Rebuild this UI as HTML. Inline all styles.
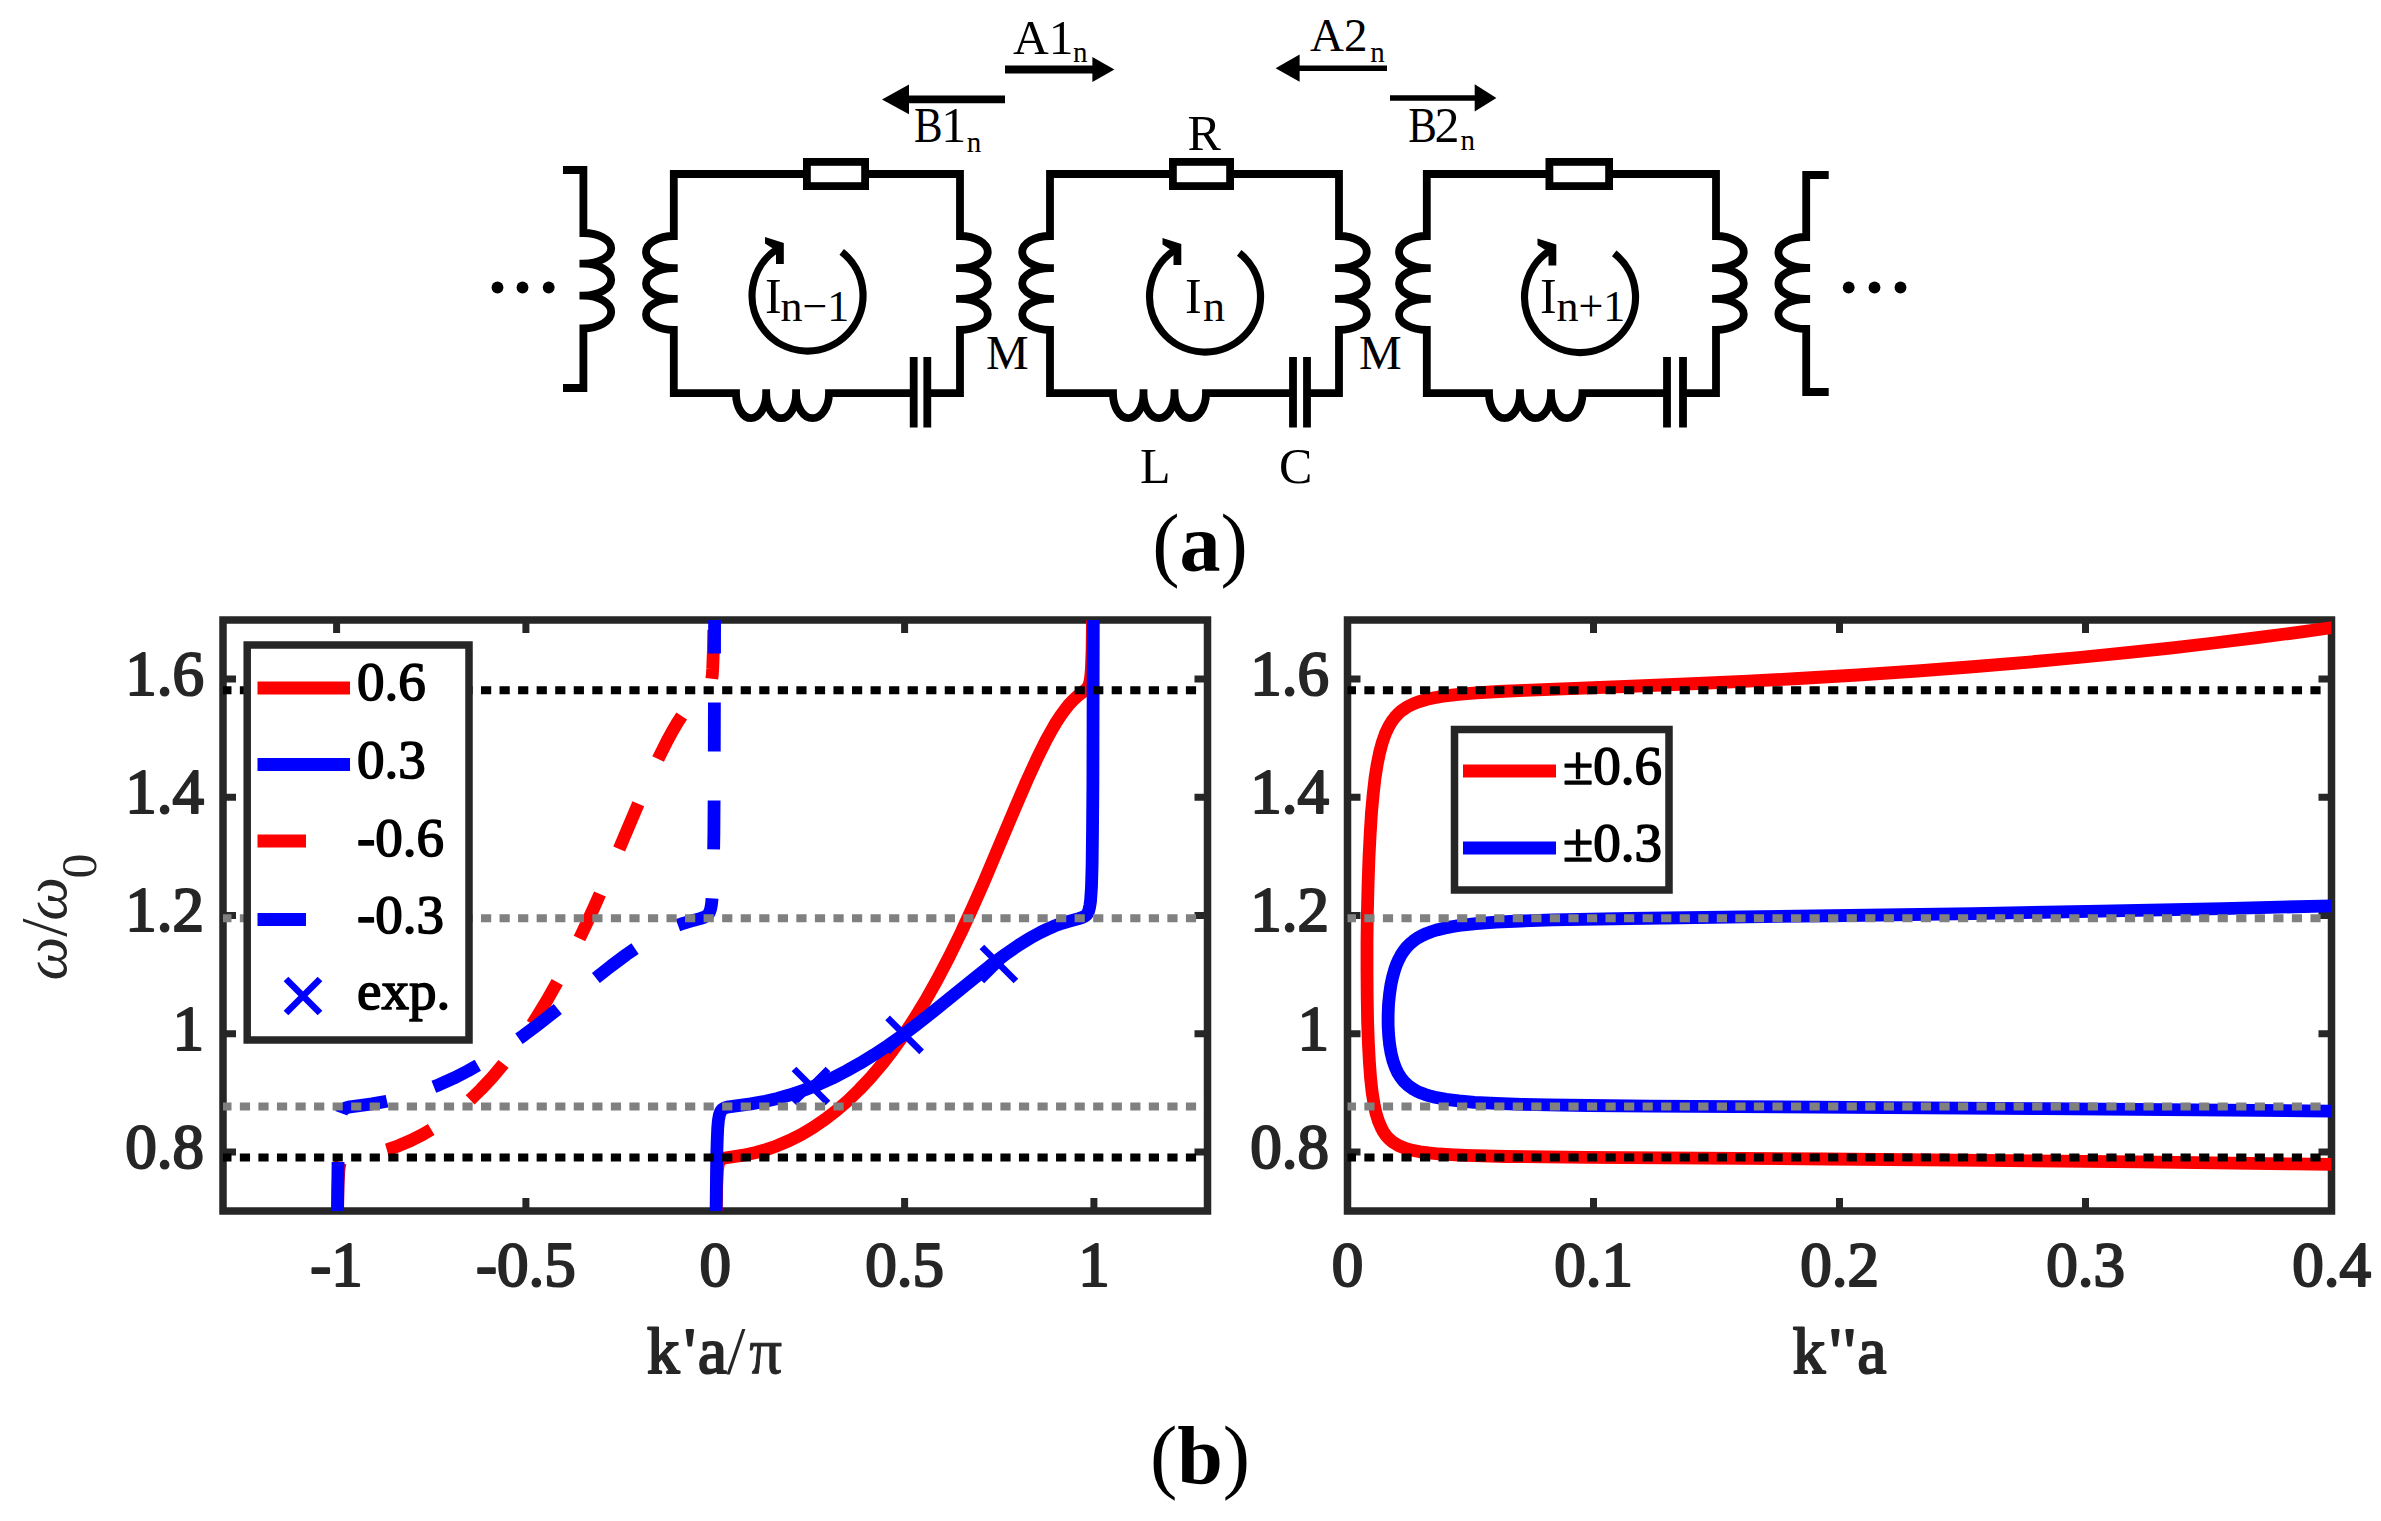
<!DOCTYPE html>
<html><head><meta charset="utf-8"><title>Figure</title>
<style>html,body{margin:0;padding:0;background:#fff}svg{display:block}</style>
</head><body>
<svg xmlns="http://www.w3.org/2000/svg" width="2381" height="1521" viewBox="0 0 2381 1521" font-family='"Liberation Serif", "DejaVu Serif", serif'><g fill="none" stroke="#000" stroke-width="7.8" stroke-linecap="butt" stroke-linejoin="miter"><path d="M806.0,174.0 H673.8 V236 A27.8,16.10 0 0 0 673.8,268.2 h3.90 h-3.90 A27.8,15.35 0 0 0 673.8,298.9 h3.90 h-3.90 A27.8,15.55 0 0 0 673.8,330.0 V393.2 H736.0 A15.10,25.0 0 0 0 766.2,393.2 v-3.90 v3.90 A14.95,25.0 0 0 0 796.1,393.2 v-3.90 v3.90 A16.45,25.0 0 0 0 829.0,393.2 H913.7"/><path d="M866.0,174.0 H960.0 V236 A27.8,16.10 0 0 1 960.0,268.2 h-3.90 h3.90 A27.8,15.35 0 0 1 960.0,298.9 h-3.90 h3.90 A27.8,15.55 0 0 1 960.0,330.0 V393.2 H927.3"/><rect x="806.9" y="161.9" width="58.2" height="24.2" fill="#fff"/><path d="M913.7,357 V427.5 M927.3,357 V427.5"/><path d="M841.7,251.8 A55.5,55.5 0 1 1 777.3,249.0" stroke-width="7.2"/><polygon points="765.0,237.0 783.8,243.0 783.8,264.0 776.0,264.0 776.0,250.5 765.0,243.5" fill="#000" stroke="none"/></g><text x="765.0" y="312.5" font-size="50" fill="#000">I</text><text x="780.5" y="321" font-size="44" fill="#000">n−1</text>
<g fill="none" stroke="#000" stroke-width="7.8" stroke-linecap="butt" stroke-linejoin="miter"><path d="M1172.0,174.0 H1050.0 V236 A27.8,16.10 0 0 0 1050.0,268.2 h3.90 h-3.90 A27.8,15.35 0 0 0 1050.0,298.9 h3.90 h-3.90 A27.8,15.55 0 0 0 1050.0,330.0 V393.2 H1113.0 A15.25,25.0 0 0 0 1143.5,393.2 v-3.90 v3.90 A15.50,25.0 0 0 0 1174.5,393.2 v-3.90 v3.90 A15.75,25.0 0 0 0 1206.0,393.2 H1293.0"/><path d="M1231.0,174.0 H1339.0 V236 A27.8,16.10 0 0 1 1339.0,268.2 h-3.90 h3.90 A27.8,15.35 0 0 1 1339.0,298.9 h-3.90 h3.90 A27.8,15.55 0 0 1 1339.0,330.0 V393.2 H1307.0"/><rect x="1172.9" y="161.9" width="57.2" height="24.2" fill="#fff"/><path d="M1293.0,357 V427.5 M1307.0,357 V427.5"/><path d="M1239.2,252.8 A55.5,55.5 0 1 1 1174.8,250.0" stroke-width="7.2"/><polygon points="1162.5,238.0 1181.3,244.0 1181.3,265.0 1173.5,265.0 1173.5,251.5 1162.5,244.5" fill="#000" stroke="none"/></g><text x="1185.0" y="312.5" font-size="50" fill="#000">I</text><text x="1203.0" y="321" font-size="44" fill="#000">n</text>
<g fill="none" stroke="#000" stroke-width="7.8" stroke-linecap="butt" stroke-linejoin="miter"><path d="M1548.5,174.0 H1426.8 V236 A27.8,16.10 0 0 0 1426.8,268.2 h3.90 h-3.90 A27.8,15.35 0 0 0 1426.8,298.9 h3.90 h-3.90 A27.8,15.55 0 0 0 1426.8,330.0 V393.2 H1489.0 A15.50,25.0 0 0 0 1520.0,393.2 v-3.90 v3.90 A15.50,25.0 0 0 0 1551.0,393.2 v-3.90 v3.90 A15.75,25.0 0 0 0 1582.5,393.2 H1667.0"/><path d="M1610.0,174.0 H1716.0 V236 A27.8,16.10 0 0 1 1716.0,268.2 h-3.90 h3.90 A27.8,15.35 0 0 1 1716.0,298.9 h-3.90 h3.90 A27.8,15.55 0 0 1 1716.0,330.0 V393.2 H1683.0"/><rect x="1549.4" y="161.9" width="59.7" height="24.2" fill="#fff"/><path d="M1667.0,357 V427.5 M1683.0,357 V427.5"/><path d="M1614.2,253.3 A55.5,55.5 0 1 1 1549.8,250.5" stroke-width="7.2"/><polygon points="1537.5,238.5 1556.3,244.5 1556.3,265.5 1548.5,265.5 1548.5,252.0 1537.5,245.0" fill="#000" stroke="none"/></g><text x="1540.0" y="312.5" font-size="50" fill="#000">I</text><text x="1556.5" y="321" font-size="44" fill="#000">n+1</text>
<g fill="none" stroke="#000" stroke-width="7.8" stroke-linecap="butt" stroke-linejoin="miter"><path d="M563,170 H583.4 V233 A27.8,15.35 0 0 1 583.4,263.7 h-3.90 h3.90 A27.8,15.95 0 0 1 583.4,295.6 h-3.90 h3.90 A27.8,16.45 0 0 1 583.4,328.5 V388 H563"/><path d="M1828.7,175 H1806.2 V237 A27.8,15.50 0 0 0 1806.2,268.0 h3.90 h-3.90 A27.8,15.50 0 0 0 1806.2,299.0 h3.90 h-3.90 A27.8,15.00 0 0 0 1806.2,329.0 V392 H1828.7"/></g>
<circle cx="497.5" cy="287.5" r="5.9" fill="#000"/>
<circle cx="522.5" cy="287.5" r="5.9" fill="#000"/>
<circle cx="548.7" cy="287.5" r="5.9" fill="#000"/>
<circle cx="1848.7" cy="287.5" r="5.9" fill="#000"/>
<circle cx="1874.5" cy="287.5" r="5.9" fill="#000"/>
<circle cx="1900.5" cy="287.5" r="5.9" fill="#000"/>
<path d="M1005,69.5 H1094.4" stroke="#000" stroke-width="8" fill="none"/><path d="M1114.4,69.5 L1092.4,56.9 V82.1 Z" fill="#000"/>
<path d="M1005,99.4 H907" stroke="#000" stroke-width="7.6" fill="none"/><path d="M882,99.4 L909,84.60000000000001 V114.2 Z" fill="#000"/>
<path d="M1387,68.2 H1297.6" stroke="#000" stroke-width="5.5" fill="none"/><path d="M1275.6,68.2 L1299.6,54.6 V81.8 Z" fill="#000"/>
<path d="M1390,97.9 H1476.7" stroke="#000" stroke-width="5.5" fill="none"/><path d="M1496.4,97.9 L1474.7,84.30000000000001 V111.5 Z" fill="#000"/>
<text x="1013" y="53.9" font-size="49.5" fill="#000">A1</text><text x="1073" y="62.4" font-size="29" fill="#000">n</text>
<text x="914" y="141.5" font-size="50" fill="#000" textLength="28.6" lengthAdjust="spacingAndGlyphs">B</text><text x="941.3" y="141.5" font-size="50" fill="#000">1</text><text x="966.8" y="152.1" font-size="29" fill="#000">n</text>
<text x="1310" y="51.3" font-size="47" fill="#000">A2</text><text x="1370.3" y="62.4" font-size="29" fill="#000">n</text>
<text x="1408.3" y="141.5" font-size="50" fill="#000" textLength="28.6" lengthAdjust="spacingAndGlyphs">B</text><text x="1434.4" y="141.5" font-size="50" fill="#000">2</text><text x="1460.5" y="149.6" font-size="29" fill="#000">n</text>
<text x="1187.5" y="149.5" font-size="50" fill="#000">R</text>
<text x="986" y="368.7" font-size="48" fill="#000">M</text>
<text x="1359" y="368.7" font-size="48" fill="#000">M</text>
<text x="1140" y="482.6" font-size="50" fill="#000">L</text>
<text x="1279" y="482.6" font-size="50" fill="#000">C</text>
<text x="1200" y="570.7" font-size="82" text-anchor="middle" fill="#000">(<tspan font-weight="bold">a</tspan>)</text>
<text x="1200" y="1482.5" font-size="82" text-anchor="middle" fill="#000">(<tspan font-weight="bold">b</tspan>)</text>
<path d="M336.6,1211.0 v-13 M336.6,620.0 v13 M525.9,1211.0 v-13 M525.9,620.0 v13 M715.2,1211.0 v-13 M715.2,620.0 v13 M904.6,1211.0 v-13 M904.6,620.0 v13 M1093.9,1211.0 v-13 M1093.9,620.0 v13 M223.0,1151.9 h13 M1207.5,1151.9 h-13 M223.0,1033.7 h13 M1207.5,1033.7 h-13 M223.0,915.5 h13 M1207.5,915.5 h-13 M223.0,797.3 h13 M1207.5,797.3 h-13 M223.0,679.1 h13 M1207.5,679.1 h-13" stroke="#262626" stroke-width="7" fill="none"/><rect x="223.0" y="620.0" width="984.5" height="591.0" fill="none" stroke="#262626" stroke-width="7.5"/><text x="336.6" y="1286.2" font-size="63" stroke="#262626" stroke-width="2.2" stroke-linejoin="round" text-anchor="middle" fill="#262626">-1</text><text x="525.9" y="1286.2" font-size="63" stroke="#262626" stroke-width="2.2" stroke-linejoin="round" text-anchor="middle" fill="#262626">-0.5</text><text x="715.2" y="1286.2" font-size="63" stroke="#262626" stroke-width="2.2" stroke-linejoin="round" text-anchor="middle" fill="#262626">0</text><text x="904.6" y="1286.2" font-size="63" stroke="#262626" stroke-width="2.2" stroke-linejoin="round" text-anchor="middle" fill="#262626">0.5</text><text x="1093.9" y="1286.2" font-size="63" stroke="#262626" stroke-width="2.2" stroke-linejoin="round" text-anchor="middle" fill="#262626">1</text><text x="204.0" y="1167.7" font-size="63" stroke="#262626" stroke-width="2.2" stroke-linejoin="round" text-anchor="end" fill="#262626">0.8</text><text x="204.0" y="1049.5" font-size="63" stroke="#262626" stroke-width="2.2" stroke-linejoin="round" text-anchor="end" fill="#262626">1</text><text x="204.0" y="931.3" font-size="63" stroke="#262626" stroke-width="2.2" stroke-linejoin="round" text-anchor="end" fill="#262626">1.2</text><text x="204.0" y="813.1" font-size="63" stroke="#262626" stroke-width="2.2" stroke-linejoin="round" text-anchor="end" fill="#262626">1.4</text><text x="204.0" y="694.9" font-size="63" stroke="#262626" stroke-width="2.2" stroke-linejoin="round" text-anchor="end" fill="#262626">1.6</text>
<clipPath id="cl"><rect x="223.0" y="620.0" width="984.5" height="591.0"/></clipPath>
<g clip-path="url(#cl)" fill="none" stroke-linejoin="round">
<path d="M716.3,1211.0 L716.7,1185.7 L717.4,1171.3 L717.9,1166.8 L718.6,1163.7 L719.4,1161.5 L720.5,1159.9 L722.4,1158.7 L724.9,1158.0 L743.5,1155.2 L755.9,1152.5 L766.8,1149.4 L777.3,1145.7 L789.4,1140.5 L801.4,1134.5 L813.1,1127.5 L824.8,1119.5 L836.5,1110.5 L848.1,1100.5 L859.4,1089.5 L870.6,1077.6 L881.6,1064.7 L892.4,1050.8 L903.0,1036.1 L913.5,1020.1 L925.4,1000.6 L937.3,979.5 L949.2,956.7 L961.3,932.0 L971.9,909.0 L983.3,883.3 L1016.6,804.4 L1026.9,780.6 L1037.1,758.4 L1046.0,740.4 L1051.2,731.0 L1056.1,722.5 L1060.9,715.2 L1065.7,708.7 L1069.4,704.1 L1073.2,700.1 L1077.9,695.8 L1085.9,689.6 L1087.5,687.8 L1088.7,685.7 L1089.6,683.1 L1090.3,679.5 L1090.9,674.8 L1091.4,668.6 L1092.1,650.0 L1092.5,620.0" stroke="#f00" stroke-width="12.8"/>
<path d="M716.1,1211.0 L716.7,1157.1 L717.2,1140.4 L717.7,1128.4 L718.4,1120.4 L719.4,1115.0 L720.7,1111.4 L721.6,1110.1 L722.6,1109.1 L725.2,1107.7 L728.8,1106.8 L750.8,1103.9 L765.5,1101.2 L777.5,1098.4 L789.5,1095.0 L803.6,1090.3 L817.9,1084.7 L832.3,1078.2 L846.5,1070.9 L860.2,1063.2 L873.9,1054.8 L888.0,1045.5 L902.6,1035.2 L915.6,1025.4 L929.8,1014.3 L974.5,978.1 L989.8,966.0 L1005.2,954.5 L1018.9,945.0 L1026.2,940.5 L1033.2,936.3 L1040.1,932.6 L1046.8,929.4 L1054.3,926.1 L1062.0,923.3 L1067.7,921.6 L1078.7,918.6 L1082.4,917.4 L1085.4,915.8 L1086.5,914.8 L1087.4,913.6 L1088.5,911.4 L1089.3,908.6 L1090.0,904.9 L1090.6,900.3 L1091.5,886.7 L1092.1,865.4 L1092.5,832.5 L1092.9,784.4 L1093.3,620.0" stroke="#00f" stroke-width="12.8"/>
<path d="M337.6,1211.0 L338.1,1185.7 L338.8,1171.3 L339.3,1166.8 L339.9,1163.7 L340.7,1161.5 L341.9,1159.9 L343.7,1158.7 L346.2,1158.0 L364.8,1155.2 L377.3,1152.5 L388.2,1149.4 L398.7,1145.7 L410.8,1140.5 L422.7,1134.5 L434.4,1127.5 L446.2,1119.5 L457.8,1110.5 L469.4,1100.5 L480.8,1089.5 L492.0,1077.6 L502.9,1064.7 L513.7,1050.8 L524.3,1036.1 L534.9,1020.1 L546.8,1000.6 L558.7,979.5 L570.6,956.7 L582.6,932.0 L593.3,909.0 L604.6,883.3 L638.0,804.4 L648.3,780.6 L658.4,758.4 L667.4,740.4 L672.5,731.0 L677.5,722.5 L682.3,715.2 L687.0,708.7 L690.8,704.1 L694.5,700.1 L699.3,695.8 L707.2,689.6 L708.8,687.8 L710.0,685.7 L711.0,683.1 L711.7,679.5 L712.3,674.8 L712.7,668.6 L713.4,650.0 L713.9,620.0" stroke="#f00" stroke-width="12.8" stroke-dasharray="49 49"/>
<path d="M337.5,1211.0 L338.1,1157.1 L338.5,1140.4 L339.1,1128.4 L339.8,1120.4 L340.7,1115.0 L342.0,1111.4 L342.9,1110.1 L344.0,1109.1 L346.5,1107.7 L350.1,1106.8 L372.1,1103.9 L386.8,1101.2 L398.9,1098.4 L410.9,1095.0 L425.0,1090.3 L439.2,1084.7 L453.6,1078.2 L467.9,1070.9 L481.5,1063.2 L495.3,1054.8 L509.3,1045.5 L523.9,1035.2 L537.0,1025.4 L551.2,1014.3 L595.8,978.1 L611.1,966.0 L626.5,954.5 L640.3,945.0 L647.5,940.5 L654.6,936.3 L661.4,932.6 L668.1,929.4 L675.7,926.1 L683.3,923.3 L689.0,921.6 L700.0,918.6 L703.7,917.4 L706.7,915.8 L707.9,914.8 L708.8,913.6 L709.8,911.4 L710.7,908.6 L711.4,904.9 L711.9,900.3 L712.8,886.7 L713.4,865.4 L713.9,832.5 L714.2,784.4 L714.6,620.0" stroke="#00f" stroke-width="12.8" stroke-dasharray="49 49"/>
<path d="M794.0,1069.0 L828.0,1103.0 M794.0,1103.0 L828.0,1069.0" stroke="#00f" stroke-width="6.6"/>
<path d="M887.6,1017.9 L921.6,1051.9 M887.6,1051.9 L921.6,1017.9" stroke="#00f" stroke-width="6.6"/>
<path d="M981.9,947.0 L1015.9,981.0 M981.9,981.0 L1015.9,947.0" stroke="#00f" stroke-width="6.6"/>
<path d="M221.3,690.2 H1204.5" stroke="#000" stroke-width="8" stroke-dasharray="10.2 8.35" fill="none"/><path d="M221.3,1157.5 H1204.5" stroke="#000" stroke-width="8" stroke-dasharray="10.2 8.35" fill="none"/><path d="M221.3,918.3 H1204.5" stroke="#808080" stroke-width="8" stroke-dasharray="10.2 8.35" fill="none"/><path d="M221.3,1106.4 H1204.5" stroke="#808080" stroke-width="8" stroke-dasharray="10.2 8.35" fill="none"/>
</g>
<rect x="247.2" y="645" width="221.8" height="395" fill="#fff" stroke="#262626" stroke-width="7.5"/>
<path d="M257.5,688 H350" stroke="#f00" stroke-width="13" fill="none"/>
<text x="357" y="700" font-size="55" stroke="#000" stroke-width="1.6" stroke-linejoin="round" fill="#000">0.6</text>
<path d="M257.5,764.5 H350" stroke="#00f" stroke-width="13" fill="none"/>
<text x="357" y="778" font-size="55" stroke="#000" stroke-width="1.6" stroke-linejoin="round" fill="#000">0.3</text>
<path d="M257.5,841 H306" stroke="#f00" stroke-width="13" fill="none"/>
<text x="357" y="855.5" font-size="55" stroke="#000" stroke-width="1.6" stroke-linejoin="round" fill="#000">-0.6</text>
<path d="M257.5,919.5 H306" stroke="#00f" stroke-width="13" fill="none"/>
<text x="357" y="932.5" font-size="55" stroke="#000" stroke-width="1.6" stroke-linejoin="round" fill="#000">-0.3</text>
<path d="M286,979 L320,1013 M286,1013 L320,979" stroke="#00f" stroke-width="6.6" fill="none"/>
<text x="357" y="1009" font-size="55" stroke="#000" stroke-width="1.6" stroke-linejoin="round" fill="#000">exp.</text>
<text transform="translate(66,980.5) rotate(-90)" font-size="62" fill="#262626"><tspan font-style="italic">ω</tspan><tspan font-size="66">/</tspan><tspan font-style="italic" dx="-2.3">ω</tspan><tspan font-size="50" dy="30" dx="-1.5">0</tspan></text>
<text y="1372.9" font-size="65" fill="#262626" stroke="#262626" stroke-width="2.2" stroke-linejoin="round"><tspan x="647.0">k</tspan><tspan x="684.1">'</tspan><tspan x="698.1">a</tspan><tspan x="726.6" stroke="none" font-size="68">/</tspan><tspan x="749.3" stroke-width="0.9">π</tspan></text>
<text y="1372.9" font-size="65" fill="#262626" stroke="#262626" stroke-width="2.2" stroke-linejoin="round"><tspan x="1792.8">k</tspan><tspan x="1829.4">'</tspan><tspan x="1843.8">'</tspan><tspan x="1857.4">a</tspan></text>
<path d="M1347.5,1211.0 v-13 M1347.5,620.0 v13 M1593.5,1211.0 v-13 M1593.5,620.0 v13 M1839.5,1211.0 v-13 M1839.5,620.0 v13 M2085.5,1211.0 v-13 M2085.5,620.0 v13 M2331.5,1211.0 v-13 M2331.5,620.0 v13 M1347.5,1151.9 h13 M2331.5,1151.9 h-13 M1347.5,1033.7 h13 M2331.5,1033.7 h-13 M1347.5,915.5 h13 M2331.5,915.5 h-13 M1347.5,797.3 h13 M2331.5,797.3 h-13 M1347.5,679.1 h13 M2331.5,679.1 h-13" stroke="#262626" stroke-width="7" fill="none"/><rect x="1347.5" y="620.0" width="984.0" height="591.0" fill="none" stroke="#262626" stroke-width="7.5"/><text x="1347.5" y="1286.2" font-size="63" stroke="#262626" stroke-width="2.2" stroke-linejoin="round" text-anchor="middle" fill="#262626">0</text><text x="1593.5" y="1286.2" font-size="63" stroke="#262626" stroke-width="2.2" stroke-linejoin="round" text-anchor="middle" fill="#262626">0.1</text><text x="1839.5" y="1286.2" font-size="63" stroke="#262626" stroke-width="2.2" stroke-linejoin="round" text-anchor="middle" fill="#262626">0.2</text><text x="2085.5" y="1286.2" font-size="63" stroke="#262626" stroke-width="2.2" stroke-linejoin="round" text-anchor="middle" fill="#262626">0.3</text><text x="2331.5" y="1286.2" font-size="63" stroke="#262626" stroke-width="2.2" stroke-linejoin="round" text-anchor="middle" fill="#262626">0.4</text><text x="1329.0" y="1167.7" font-size="63" stroke="#262626" stroke-width="2.2" stroke-linejoin="round" text-anchor="end" fill="#262626">0.8</text><text x="1329.0" y="1049.5" font-size="63" stroke="#262626" stroke-width="2.2" stroke-linejoin="round" text-anchor="end" fill="#262626">1</text><text x="1329.0" y="931.3" font-size="63" stroke="#262626" stroke-width="2.2" stroke-linejoin="round" text-anchor="end" fill="#262626">1.2</text><text x="1329.0" y="813.1" font-size="63" stroke="#262626" stroke-width="2.2" stroke-linejoin="round" text-anchor="end" fill="#262626">1.4</text><text x="1329.0" y="694.9" font-size="63" stroke="#262626" stroke-width="2.2" stroke-linejoin="round" text-anchor="end" fill="#262626">1.6</text>
<clipPath id="cr"><rect x="1347.5" y="620.0" width="984.0" height="591.0"/></clipPath>
<g clip-path="url(#cr)" fill="none" stroke-linejoin="round">
<path d="M4171.9,1211.0 L3864.8,1200.7 L3567.1,1191.5 L3278.6,1183.5 L3138.0,1180.0 L2993.5,1176.6 L2815.0,1172.7 L2638.7,1169.3 L2464.8,1166.4 L2293.8,1163.9 L2140.2,1161.9 L1984.0,1160.3 L1825.2,1159.0 L1586.1,1157.4 L1506.2,1156.5 L1465.7,1155.4 L1450.0,1154.7 L1439.1,1154.0 L1428.5,1152.9 L1420.0,1151.8 L1412.4,1150.3 L1405.5,1148.4 L1398.8,1145.7 L1393.5,1142.6 L1391.0,1140.7 L1388.8,1138.6 L1386.7,1136.4 L1384.8,1133.9 L1383.0,1131.1 L1381.4,1128.1 L1378.5,1121.3 L1376.0,1113.2 L1374.0,1103.7 L1372.1,1092.1 L1370.6,1078.2 L1369.4,1062.1 L1368.4,1043.3 L1367.6,1021.4 L1367.2,996.9 L1367.0,969.9 L1367.0,941.5 L1367.4,912.0 L1368.1,883.4 L1369.0,857.1 L1370.2,833.4 L1371.5,812.5 L1373.2,794.2 L1375.0,778.1 L1377.2,764.2 L1379.6,752.5 L1382.3,742.3 L1385.4,733.6 L1388.9,726.2 L1390.8,723.0 L1392.9,719.9 L1395.1,717.1 L1397.5,714.4 L1400.0,712.0 L1402.8,709.8 L1405.8,707.8 L1408.9,706.0 L1414.2,703.5 L1420.2,701.3 L1426.9,699.3 L1434.3,697.7 L1443.0,696.2 L1451.9,695.1 L1463.5,693.9 L1476.5,692.8 L1498.7,691.5 L1524.2,690.3 L1637.4,686.0 L1697.8,683.5 L1748.0,681.2 L1798.4,678.5 L1857.9,675.0 L1917.1,671.0 L1975.7,666.5 L2032.0,661.8 L2078.6,657.5 L2124.7,652.9 L2170.2,648.1 L2213.9,643.0 L2257.2,637.7 L2299.9,632.1 L2342.1,626.2 L2383.7,620.0" stroke="#f00" stroke-width="12.8"/>
<path d="M6060.1,1211.0 L5777.8,1199.6 L5506.4,1189.1 L5246.1,1179.5 L4989.0,1170.5 L4738.9,1162.2 L4491.7,1154.6 L4247.0,1147.5 L4004.8,1141.0 L3708.0,1133.7 L3414.5,1127.4 L3124.8,1121.9 L2830.5,1117.2 L2565.1,1113.6 L2306.2,1110.8 L2042.6,1108.6 L1650.7,1106.1 L1588.2,1105.5 L1548.3,1104.9 L1521.9,1104.3 L1496.1,1103.4 L1474.5,1102.3 L1458.8,1100.9 L1446.0,1099.3 L1434.9,1097.2 L1429.6,1095.9 L1425.3,1094.6 L1421.2,1093.1 L1417.5,1091.5 L1412.5,1088.7 L1408.0,1085.4 L1404.1,1081.7 L1400.7,1077.4 L1397.7,1072.6 L1395.2,1067.1 L1393.0,1060.9 L1391.2,1053.8 L1389.7,1045.2 L1388.7,1035.9 L1388.1,1025.7 L1388.1,1015.2 L1388.5,1004.7 L1389.5,994.5 L1390.9,984.9 L1392.8,976.2 L1394.5,970.2 L1396.4,964.7 L1398.6,959.7 L1401.0,955.1 L1403.7,951.0 L1406.6,947.3 L1409.9,943.9 L1413.6,940.8 L1417.4,938.1 L1421.9,935.6 L1426.7,933.4 L1431.9,931.5 L1437.8,929.7 L1443.9,928.2 L1451.4,926.7 L1459.0,925.5 L1476.1,923.6 L1496.1,922.1 L1520.4,921.0 L1552.6,919.9 L1629.2,918.5 L1849.1,915.5 L1973.1,913.6 L2100.9,911.2 L2222.7,908.6 L2355.7,905.2 L2489.8,901.2 L2615.4,896.9 L2741.4,892.0 L2863.5,886.7 L2981.8,880.9 L3096.6,874.7 L3207.7,868.1 L3315.3,861.0 L3421.4,853.3 L3521.9,845.3 L3620.7,836.7 L3718.8,827.4 L3814.4,817.5 L3905.8,807.2 L3993.4,796.4 L4078.2,785.0 L4119.6,779.1 L4160.3,773.1 L4200.3,766.9 L4239.6,760.5 L4278.1,754.0 L4316.0,747.4 L4353.1,740.6 L4388.7,733.8 L4424.4,726.7 L4459.4,719.4 L4493.7,712.0 L4527.3,704.5 L4560.1,696.8 L4592.3,689.0 L4623.8,681.0 L4655.2,672.7 L4685.3,664.5 L4715.2,655.9 L4744.5,647.2 L4773.1,638.3 L4801.0,629.3 L4828.7,620.0" stroke="#00f" stroke-width="12.8"/>
<path d="M1345.8,690.2 H2328.5" stroke="#000" stroke-width="8" stroke-dasharray="10.2 8.35" fill="none"/><path d="M1345.8,1157.5 H2328.5" stroke="#000" stroke-width="8" stroke-dasharray="10.2 8.35" fill="none"/><path d="M1345.8,918.3 H2328.5" stroke="#808080" stroke-width="8" stroke-dasharray="10.2 8.35" fill="none"/><path d="M1345.8,1106.4 H2328.5" stroke="#808080" stroke-width="8" stroke-dasharray="10.2 8.35" fill="none"/>
</g>
<rect x="1454.5" y="729.5" width="214.5" height="160.5" fill="#fff" stroke="#262626" stroke-width="7.5"/>
<path d="M1463,771 H1556" stroke="#f00" stroke-width="13" fill="none"/>
<text x="1563" y="784" font-size="55" stroke="#000" stroke-width="1.6" stroke-linejoin="round" fill="#000">±0.6</text>
<path d="M1463,848 H1556" stroke="#00f" stroke-width="13" fill="none"/>
<text x="1563" y="861" font-size="55" stroke="#000" stroke-width="1.6" stroke-linejoin="round" fill="#000">±0.3</text></svg>
</body></html>
